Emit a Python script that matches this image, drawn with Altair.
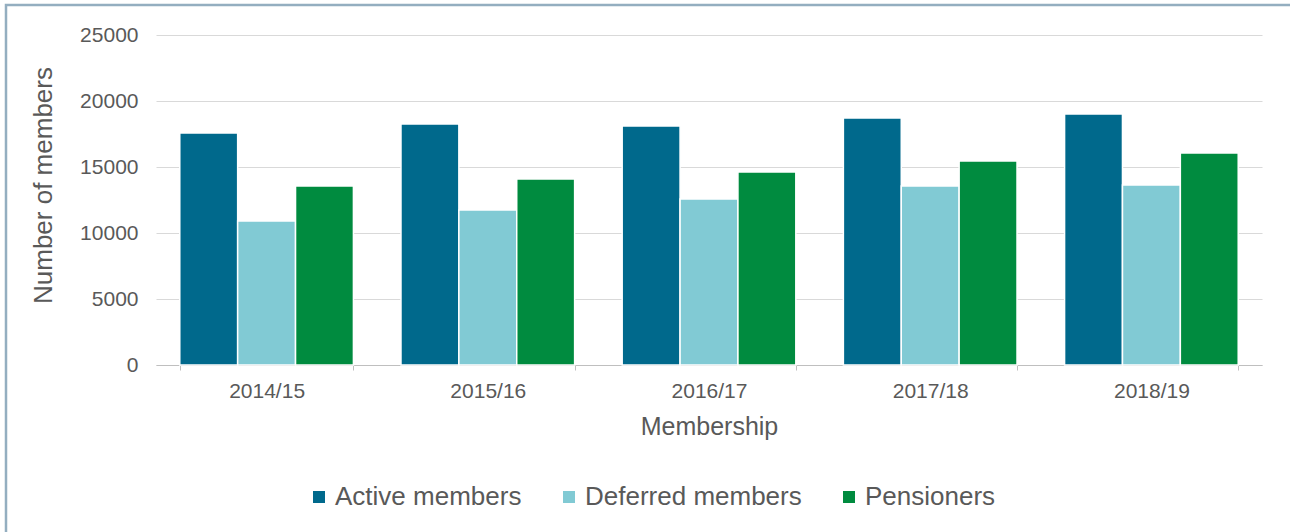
import altair as alt
import pandas as pd

years = ["2014/15", "2015/16", "2016/17", "2017/18", "2018/19"]
series = ["Active members", "Deferred members", "Pensioners"]
active = [17580, 18260, 18110, 18710, 19020]
deferred = [10910, 11740, 12580, 13560, 13640]
pensioners = [13560, 14090, 14620, 15460, 16060]
colors = ["#00698C", "#81CAD4", "#008B3F"]
y_ticks = [0, 5000, 10000, 15000, 20000, 25000]

rows = []
for i, yr in enumerate(years):
    for s, vals in zip(series, [active, deferred, pensioners]):
        rows.append({"year": yr, "series": s, "value": vals[i]})
df = pd.DataFrame(rows)

W, H = 1106, 330
PL, PT = 156, 35
TXT = "#595959"
FONT = "Liberation Sans"

bars = alt.Chart(df).mark_bar(stroke="white", strokeWidth=1.5).encode(
    x=alt.X("year:N", sort=years, title="Membership",
            scale=alt.Scale(paddingInner=0.215, paddingOuter=0.1075),
            axis=alt.Axis(labelAngle=0, labelFontSize=21, labelColor=TXT, labelFont=FONT,
                          titleFontSize=25, titleColor=TXT, titleFont=FONT, titleFontWeight="normal",
                          titlePadding=13, labelPadding=10,
                          domainColor="#BFBFBF", tickColor="#BFBFBF", tickSize=5,
                          tickBand="extent", grid=False)),
    xOffset=alt.XOffset("series:N", sort=series, scale=alt.Scale(paddingInner=0, paddingOuter=0)),
    y=alt.Y("value:Q", title="Number of members",
            scale=alt.Scale(domain=[0, 25000], nice=False),
            axis=alt.Axis(values=y_ticks, format="d", labelFontSize=21, labelColor=TXT, labelFont=FONT,
                          titleFontSize=26, titleColor=TXT, titleFont=FONT, titleFontWeight="normal",
                          titleY=150, titlePadding=23, labelPadding=18,
                          domain=False, ticks=False, gridColor="#D9D9D9", gridWidth=1.2)),
    color=alt.Color("series:N", sort=series,
                    scale=alt.Scale(domain=series, range=colors),
                    legend=alt.Legend(orient="none", legendX=150, legendY=449, direction="horizontal",
                                      title=None, symbolType="square", symbolSize=144,
                                      symbolStrokeWidth=0, labelFontSize=26, labelColor=TXT,
                                      labelFont=FONT, labelOffset=3, columnPadding=34,
                                      padding=0, labelLimit=400)),
)

frame = alt.Chart(pd.DataFrame({"a": [0]})).mark_rect(
    fill=None, stroke="#94AEC0", strokeWidth=2.5
).encode(
    x=alt.value(-150), x2=alt.value(W + 200),
    y=alt.value(-30), y2=alt.value(H + 300),
)

chart = alt.layer(frame, bars).properties(
    width=W, height=H,
    background="white",
    autosize=alt.AutoSizeParams(type="none"),
    padding={"left": PL, "top": PT, "right": 1290 - PL - W, "bottom": 532 - PT - H},
).configure_view(stroke=None)

chart.save("out.html", embed_options={"renderer": "svg", "actions": False})
